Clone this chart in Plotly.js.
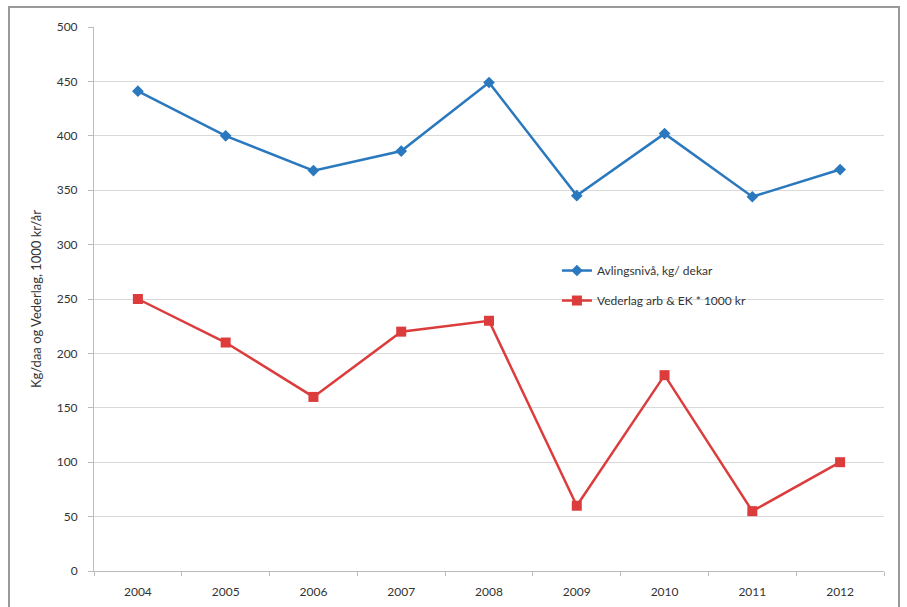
<!DOCTYPE html>
<html><head><meta charset="utf-8">
<script src="https://cdn.plot.ly/plotly-3.0.1.min.js"></script>
<style>html,body{margin:0;padding:0;background:#fff;}#chart{width:907px;height:607px;}</style>
</head><body><div id="chart"></div>
<script>
const years = ['2004','2005','2006','2007','2008','2009','2010','2011','2012'];
const avling = [441, 400, 368, 386, 449, 345, 402, 344, 369];
const vederlag = [250, 210, 160, 220, 230, 60, 180, 55, 100];
const nameAvling = 'Avlingsnivå, kg/ dekar';
const nameVederlag = 'Vederlag arb & EK * 1000 kr';
const yTitle = 'Kg/daa og Vederlag, 1000 kr/år';

const fontFam = 'Lato, "Open Sans", sans-serif';
const traces = [
  {x: years, y: avling, name: nameAvling, legendgroup: 'a', type: 'scatter', mode: 'lines+markers',
   line: {color: '#2A78BE', width: 2.5}, marker: {symbol: 'diamond', size: 9, color: '#2A78BE'}},
  {x: years, y: vederlag, name: nameVederlag, legendgroup: 'b', type: 'scatter', mode: 'lines+markers',
   line: {color: '#DC3C3C', width: 2.5}, marker: {symbol: 'square', size: 10, color: '#DC3C3C'}}
];
const layout = {
  width: 907, height: 607,
  margin: {l: 94, r: 23, t: 27, b: 36},
  paper_bgcolor: '#fff', plot_bgcolor: '#fff',
  font: {family: fontFam, size: 12, color: '#333'},
  showlegend: true,
  legend: {x: 0.586, y: 0.579, xanchor: 'left', yanchor: 'top', bgcolor: 'rgba(0,0,0,0)',
           font: {size: 12, color: '#333'}, traceorder: 'grouped', tracegroupgap: 11, itemwidth: 30},
  xaxis: {type: 'category', tickson: 'boundaries', ticks: 'outside', ticklen: 4, tickcolor: '#bbb',
          showline: true, linecolor: '#bbb', showgrid: false, zeroline: false,
          tickfont: {size: 12, color: '#333'}, ticklabelstandoff: 10, range: [-0.5, 8.5]},
  yaxis: {range: [0, 500], dtick: 50, tick0: 0, ticks: 'outside', ticklen: 5, tickcolor: '#bbb',
          showline: true, linecolor: '#bbb', gridcolor: '#d9d9d9', zeroline: false,
          tickfont: {size: 12, color: '#333'}, ticklabelstandoff: 8,
          title: {text: yTitle, font: {size: 13, color: '#333'}, standoff: 12}},
  shapes: [{type: 'rect', xref: 'paper', yref: 'paper', x0: -0.1076, x1: 1.019, y0: -0.08, y1: 1.0368,
            line: {color: '#999', width: 2}, fillcolor: 'rgba(0,0,0,0)', layer: 'below'}]
};
Plotly.newPlot('chart', traces, layout, {displayModeBar: false, staticPlot: true});
</script></body></html>
